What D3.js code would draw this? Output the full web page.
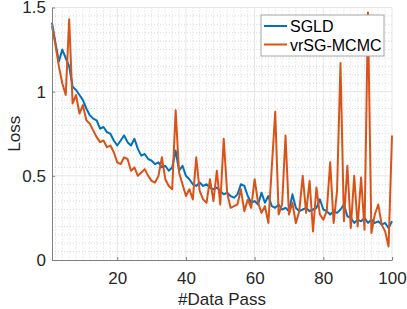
<!DOCTYPE html>
<html>
<head>
<meta charset="utf-8">
<script src="https://cdn.jsdelivr.net/npm/d3@7"></script>
<style>
  body { margin: 0; background: #fff; }
  svg { display: block; font-family: "Liberation Sans", Arial, Helvetica, sans-serif; }
</style>
</head>
<body>
<div id="chart"></div>
<script>
// data
const dataPass = d3.range(1, 101);

const sgld = [
  1.41, 1.29, 1.18, 1.25, 1.20, 1.15, 1.03, 1.01, 0.98, 0.95,
  0.90, 0.86, 0.84, 0.83, 0.78, 0.79, 0.76, 0.75, 0.71, 0.68,
  0.71, 0.74, 0.70, 0.68, 0.72, 0.66, 0.62, 0.63, 0.60, 0.59,
  0.57, 0.58, 0.55, 0.56, 0.53, 0.55, 0.65, 0.53, 0.56, 0.50,
  0.48, 0.45, 0.44, 0.46, 0.44, 0.45, 0.43, 0.42, 0.43, 0.41,
  0.39, 0.40, 0.38, 0.37, 0.39, 0.45, 0.44, 0.38, 0.34, 0.35,
  0.33, 0.40, 0.34, 0.38, 0.32, 0.31, 0.33, 0.30, 0.31, 0.29,
  0.39, 0.31, 0.29, 0.30, 0.31, 0.29, 0.30, 0.31, 0.36, 0.30,
  0.29, 0.27, 0.29, 0.28, 0.30, 0.33, 0.26, 0.25, 0.22, 0.24,
  0.23, 0.25, 0.22, 0.24, 0.22, 0.23, 0.21, 0.22, 0.19, 0.23
];

const vrsg = [
  1.39, 1.28, 1.15, 1.05, 0.98, 1.43, 0.93, 0.98, 0.87, 0.92,
  0.83, 0.81, 0.77, 0.73, 0.70, 0.71, 0.67, 0.68, 0.64, 0.58,
  0.57, 0.61, 0.60, 0.53, 0.55, 0.50, 0.52, 0.54, 0.50, 0.47,
  0.46, 0.50, 0.61, 0.48, 0.44, 0.42, 0.89, 0.52, 0.45, 0.38,
  0.42, 0.36, 0.61, 0.41, 0.36, 0.34, 0.48, 0.35, 0.53, 0.33,
  0.72, 0.40, 0.31, 0.32, 0.33, 0.42, 0.29, 0.36, 0.31, 0.48,
  0.34, 0.28, 0.32, 0.22, 0.55, 0.88, 0.27, 0.33, 0.74, 0.27,
  0.34, 0.22, 0.29, 0.50, 0.28, 0.47, 0.17, 0.43, 0.27, 0.24,
  0.29, 0.58, 0.22, 0.41, 1.17, 0.23, 0.56, 0.19, 0.50, 0.20,
  0.49, 0.18, 1.47, 0.16, 0.27, 0.33, 0.21, 0.17, 0.08, 0.74
];

const xTicks = [20, 40, 60, 80, 100];
const yTicks = [0, 0.5, 1, 1.5];

const series = [
  { name: 'SGLD', values: sgld, color: '#0072BD' },
  { name: 'vrSG-MCMC', values: vrsg, color: '#D95319' }
];

const W = 407, H = 309;
const margin = { top: 7.5, right: 15, bottom: 49, left: 52 };
const width = W - margin.left - margin.right;
const height = H - margin.top - margin.bottom;

const svg = d3.select('#chart').append('svg')
  .attr('width', W)
  .attr('height', H);

const g = svg.append('g')
  .attr('transform', `translate(${margin.left},${margin.top})`);

const x = d3.scaleLinear().domain([1, 100]).range([0, width]);
const y = d3.scaleLinear().domain([0, 1.5]).range([height, 0]);

// minor grid (dotted)
g.append('g')
  .selectAll('line')
  .data(d3.range(2, 101, 2).filter(d => d % 20 !== 0))
  .join('line')
  .attr('x1', d => x(d)).attr('x2', d => x(d))
  .attr('y1', 0).attr('y2', height)
  .attr('stroke', '#d9d9d9')
  .attr('stroke-dasharray', '1,2');

g.append('g')
  .selectAll('line')
  .data(d3.range(1, 30).map(i => i * 0.05).filter(d => Math.abs(d * 2 - Math.round(d * 2)) > 1e-6))
  .join('line')
  .attr('x1', 0).attr('x2', width)
  .attr('y1', d => y(d)).attr('y2', d => y(d))
  .attr('stroke', '#d9d9d9')
  .attr('stroke-dasharray', '1,2');

// major grid
g.append('g')
  .selectAll('line')
  .data(xTicks)
  .join('line')
  .attr('x1', d => x(d)).attr('x2', d => x(d))
  .attr('y1', 0).attr('y2', height)
  .attr('stroke', '#e6e6e6');

g.append('g')
  .selectAll('line')
  .data(yTicks.filter(d => d > 0))
  .join('line')
  .attr('x1', 0).attr('x2', width)
  .attr('y1', d => y(d)).attr('y2', d => y(d))
  .attr('stroke', '#e6e6e6');

// lines
const line = d3.line()
  .x((d, i) => x(dataPass[i]))
  .y(d => y(d));

series.forEach(s => {
  g.append('path')
    .datum(s.values)
    .attr('fill', 'none')
    .attr('stroke', s.color)
    .attr('stroke-width', 2)
    .attr('stroke-linejoin', 'round')
    .attr('d', line);
});

// axes
const xAxis = g.append('g')
  .attr('transform', `translate(0,${height})`)
  .call(d3.axisBottom(x).tickValues(xTicks).tickSize(-3).tickPadding(12).tickSizeOuter(0));

const yAxis = g.append('g')
  .call(d3.axisLeft(y).tickValues(yTicks).tickFormat(d3.format('~g')).tickSize(-3).tickPadding(6).tickSizeOuter(0));

[xAxis, yAxis].forEach(ax => {
  ax.select('.domain').attr('stroke', '#808080');
  ax.selectAll('.tick line').attr('stroke', '#808080');
  ax.selectAll('.tick text')
    .attr('fill', '#262626')
    .style('font-size', '17px')
    .style('font-family', '"Liberation Sans", Arial, sans-serif');
});

// axis labels
g.append('text')
  .attr('text-anchor', 'middle')
  .attr('x', width / 2)
  .attr('y', height + 45)
  .attr('fill', '#262626')
  .style('font-size', '17px')
  .text('#Data Pass');

g.append('text')
  .attr('text-anchor', 'middle')
  .attr('transform', 'rotate(-90)')
  .attr('x', -height / 2)
  .attr('y', -32)
  .attr('fill', '#262626')
  .style('font-size', '17px')
  .text('Loss');

// legend
const legend = svg.append('g')
  .attr('transform', 'translate(261,15)');

legend.append('rect')
  .attr('width', 123)
  .attr('height', 41)
  .attr('fill', '#fff')
  .attr('stroke', '#a6a6a6');

series.forEach((s, i) => {
  const row = legend.append('g')
    .attr('transform', `translate(0,${11 + i * 18.5})`);
  row.append('line')
    .attr('x1', 3).attr('x2', 26)
    .attr('stroke', s.color)
    .attr('stroke-width', 2);
  row.append('text')
    .attr('x', 29)
    .attr('y', 6)
    .attr('fill', '#000')
    .style('font-size', '16px')
    .text(s.name);
});
</script>
</body>
</html>
